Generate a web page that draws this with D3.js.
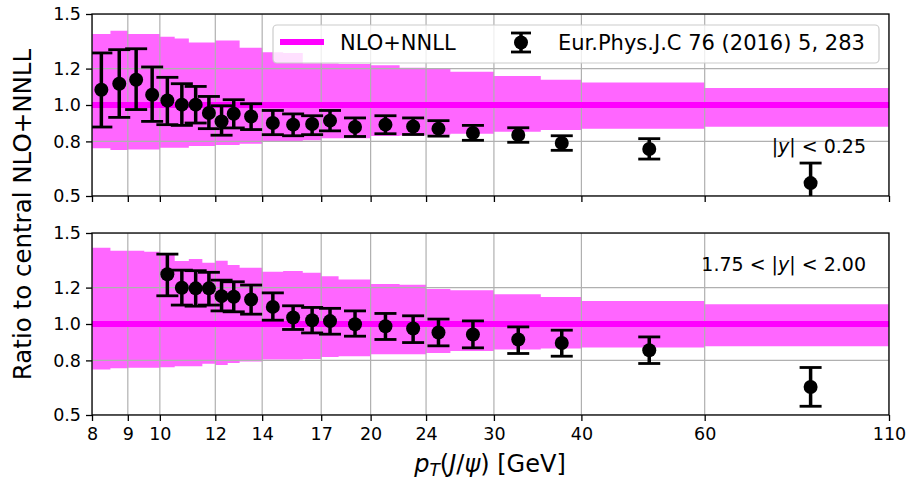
<!DOCTYPE html>
<html lang="en">
<head>
<meta charset="UTF-8">
<title>J/psi ratio to NLO+NNLL</title>
<script src="https://cdn.jsdelivr.net/npm/d3@7"></script>
<style>
  body { margin: 0; background: #fff; }
  text { font-family: "DejaVu Sans", sans-serif; fill: #000; }
</style>
</head>
<body>
<script>
// pT bin edges (GeV), shared by theory band and data
var binEdges = [8, 8.5, 9, 9.5, 10, 10.5, 11, 11.5, 12, 12.5, 13, 14, 15, 16, 17, 18, 20, 22, 24, 26, 30, 35, 40, 60, 110];

// theory band, |y| < 0.25
var bandTopHi = [1.390, 1.408, 1.390, 1.390, 1.375, 1.366, 1.344, 1.344, 1.355, 1.355, 1.315, 1.290,
                 1.286, 1.230, 1.228, 1.225, 1.218, 1.205, 1.200, 1.183, 1.160, 1.139, 1.124, 1.093];
var bandTopLo = [0.762, 0.753, 0.756, 0.756, 0.765, 0.765, 0.775, 0.775, 0.780, 0.780, 0.787, 0.798,
                 0.798, 0.806, 0.817, 0.817, 0.830, 0.832, 0.836, 0.842, 0.853, 0.862, 0.869, 0.881];
// theory band, 1.75 < |y| < 2.00
var bandBotHi = [1.419, 1.403, 1.403, 1.397, 1.390, 1.346, 1.357, 1.337, 1.348, 1.324, 1.309, 1.287,
                 1.291, 1.282, 1.263, 1.245, 1.220, 1.215, 1.192, 1.186, 1.164, 1.149, 1.127, 1.108];
var bandBotLo = [0.750, 0.757, 0.759, 0.759, 0.763, 0.768, 0.768, 0.781, 0.775, 0.786, 0.794, 0.805,
                 0.805, 0.808, 0.818, 0.823, 0.834, 0.834, 0.841, 0.851, 0.860, 0.865, 0.871, 0.878];

// data, |y| < 0.25
var dataTopPt  = [8.25, 8.75, 9.25, 9.75, 10.25, 10.75, 11.25, 11.75, 12.25, 12.75, 13.5, 14.5,
                  15.5, 16.5, 17.5, 19, 21, 23, 25, 28, 32.5, 37.5, 50, 85];
var dataTopVal = [1.084, 1.117, 1.139, 1.056, 1.025, 1.002, 1.002, 0.956, 0.910, 0.952, 0.937, 0.901,
                  0.892, 0.896, 0.914, 0.879, 0.892, 0.882, 0.870, 0.846, 0.835, 0.791, 0.758, 0.571];
var dataTopLo  = [0.879, 0.932, 0.975, 0.910, 0.892, 0.888, 0.901, 0.870, 0.834, 0.874, 0.865, 0.837,
                  0.831, 0.837, 0.858, 0.827, 0.842, 0.838, 0.829, 0.806, 0.795, 0.751, 0.703, 0.460];
var dataTopHi  = [1.286, 1.304, 1.309, 1.209, 1.152, 1.117, 1.102, 1.047, 0.996, 1.029, 1.007, 0.970,
                  0.951, 0.941, 0.970, 0.929, 0.941, 0.929, 0.914, 0.888, 0.875, 0.831, 0.815, 0.681];

// data, 1.75 < |y| < 2.00
var dataBotPt  = [10.25, 10.75, 11.25, 11.75, 12.25, 12.75, 13.5, 14.5, 15.5, 16.5, 17.5, 19,
                  21, 23, 25, 28, 32.5, 37.5, 50, 85];
var dataBotVal = [1.273, 1.199, 1.196, 1.196, 1.153, 1.150, 1.135, 1.094, 1.036, 1.021, 1.016, 0.999,
                  0.988, 0.975, 0.953, 0.942, 0.915, 0.896, 0.856, 0.654];
var dataBotLo  = [1.155, 1.104, 1.098, 1.104, 1.072, 1.067, 1.054, 1.021, 0.970, 0.951, 0.944, 0.933,
                  0.915, 0.898, 0.880, 0.869, 0.838, 0.823, 0.783, 0.548];
var dataBotHi  = [1.384, 1.296, 1.293, 1.284, 1.241, 1.232, 1.214, 1.171, 1.100, 1.091, 1.086, 1.072,
                  1.058, 1.045, 1.027, 1.017, 0.984, 0.966, 0.929, 0.761];

var xTicks = [8, 9, 10, 12, 14, 17, 20, 24, 30, 40, 60, 110];
var yTicks = [0.5, 0.8, 1.0, 1.2, 1.5];

var w = 909, h = 484;
var left = 92, right = 889, panelH = 182;
var panelTops = [14, 233];
var magenta = "#ff00ff", bandColor = "#ff66ff", gridColor = "#b0b0b0";

var svg = d3.select("body").append("svg")
    .attr("width", w).attr("height", h);

var x = d3.scaleLog().domain([8, 110]).range([left, right]);

function drawPanel(idx, hi, lo, pts, vals, los, his, showXLabels) {
    var top = panelTops[idx];
    var y = d3.scaleLinear().domain([0.5, 1.5]).range([top + panelH, top]);
    var g = svg.append("g");

    var clipId = "clip" + idx;
    svg.append("clipPath").attr("id", clipId)
        .append("rect").attr("x", left).attr("y", top)
        .attr("width", right - left).attr("height", panelH);

    var plot = g.append("g").attr("clip-path", "url(#" + clipId + ")");

    // step band
    var steps = binEdges.map(function(e, i) {
        var k = Math.min(i, hi.length - 1);
        return { x: e, lo: lo[k], hi: hi[k] };
    });
    var area = d3.area()
        .curve(d3.curveStepAfter)
        .x(function(d) { return x(d.x); })
        .y0(function(d) { return y(d.lo); })
        .y1(function(d) { return y(d.hi); });
    plot.append("path").datum(steps)
        .attr("d", area).attr("fill", bandColor);

    // grid
    plot.selectAll(".gx").data(xTicks).enter().append("line")
        .attr("x1", function(d) { return x(d); }).attr("x2", function(d) { return x(d); })
        .attr("y1", top).attr("y2", top + panelH)
        .attr("stroke", gridColor).attr("stroke-width", 1.2);
    plot.selectAll(".gy").data(yTicks).enter().append("line")
        .attr("x1", left).attr("x2", right)
        .attr("y1", function(d) { return y(d); }).attr("y2", function(d) { return y(d); })
        .attr("stroke", gridColor).attr("stroke-width", 1.2);

    // central line
    plot.append("line")
        .attr("x1", left).attr("x2", right)
        .attr("y1", y(1)).attr("y2", y(1))
        .attr("stroke", magenta).attr("stroke-width", 6);

    // data with error bars
    var pts2 = pts.map(function(p, i) { return { pt: p, v: vals[i], lo: los[i], hi: his[i] }; });
    var eb = plot.selectAll(".eb").data(pts2).enter().append("g");
    eb.append("line")
        .attr("x1", function(d) { return x(d.pt); }).attr("x2", function(d) { return x(d.pt); })
        .attr("y1", function(d) { return y(d.lo); }).attr("y2", function(d) { return y(d.hi); })
        .attr("stroke", "#000").attr("stroke-width", 3.5);
    ["lo", "hi"].forEach(function(key) {
        eb.append("line")
            .attr("x1", function(d) { return x(d.pt) - 11; }).attr("x2", function(d) { return x(d.pt) + 11; })
            .attr("y1", function(d) { return y(d[key]); }).attr("y2", function(d) { return y(d[key]); })
            .attr("stroke", "#000").attr("stroke-width", 2.8);
    });
    eb.append("circle")
        .attr("cx", function(d) { return x(d.pt); })
        .attr("cy", function(d) { return y(d.v); })
        .attr("r", 7).attr("fill", "#000");

    // axes
    var xAxis = d3.axisBottom(x).tickValues(xTicks).tickSizeOuter(0).tickSize(6).tickPadding(7)
        .tickFormat(showXLabels ? d3.format("d") : "");
    var ax = g.append("g").attr("transform", "translate(0," + (top + panelH) + ")").call(xAxis);
    var yAxis = d3.axisLeft(y).tickValues(yTicks).tickSizeOuter(0).tickSize(6).tickPadding(5)
        .tickFormat(d3.format(".1f"));
    var ay = g.append("g").attr("transform", "translate(" + left + ",0)").call(yAxis);
    [ax, ay].forEach(function(a) {
        a.select(".domain").remove();
        a.selectAll(".tick line").attr("stroke", "#000").attr("stroke-width", 1.3);
        a.selectAll(".tick text").attr("font-size", "17.5px").attr("font-family", "DejaVu Sans");
    });

    g.append("rect").attr("x", left).attr("y", top)
        .attr("width", right - left).attr("height", panelH)
        .attr("fill", "none").attr("stroke", "#000").attr("stroke-width", 1.3);
    return g;
}

drawPanel(0, bandTopHi, bandTopLo, dataTopPt, dataTopVal, dataTopLo, dataTopHi, false);
drawPanel(1, bandBotHi, bandBotLo, dataBotPt, dataBotVal, dataBotLo, dataBotHi, true);

// rapidity annotations
var t1 = svg.append("text").attr("x", 866).attr("y", 153).attr("text-anchor", "end").attr("font-size", "19px");
t1.append("tspan").text("|");
t1.append("tspan").attr("font-style", "italic").text("y");
t1.append("tspan").text("| < 0.25");
var t2 = svg.append("text").attr("x", 866).attr("y", 271).attr("text-anchor", "end").attr("font-size", "19px");
t2.append("tspan").text("1.75 < |");
t2.append("tspan").attr("font-style", "italic").text("y");
t2.append("tspan").text("| < 2.00");

// legend
var lg = svg.append("g");
lg.append("rect").attr("x", 273).attr("y", 25).attr("width", 606).attr("height", 38)
    .attr("rx", 4).attr("fill", "#fff").attr("fill-opacity", 0.8)
    .attr("stroke", "#cccccc").attr("stroke-width", 1.2);
lg.append("line").attr("x1", 280).attr("x2", 324).attr("y1", 42).attr("y2", 42)
    .attr("stroke", magenta).attr("stroke-width", 6);
lg.append("text").attr("x", 340).attr("y", 50).attr("font-size", "21px").text("NLO+NNLL");
lg.append("line").attr("x1", 521).attr("x2", 521).attr("y1", 33).attr("y2", 52)
    .attr("stroke", "#000").attr("stroke-width", 3.5);
lg.append("line").attr("x1", 511).attr("x2", 531).attr("y1", 33).attr("y2", 33)
    .attr("stroke", "#000").attr("stroke-width", 2.8);
lg.append("line").attr("x1", 511).attr("x2", 531).attr("y1", 52).attr("y2", 52)
    .attr("stroke", "#000").attr("stroke-width", 2.8);
lg.append("circle").attr("cx", 521).attr("cy", 42.5).attr("r", 7).attr("fill", "#000");
lg.append("text").attr("x", 558).attr("y", 50).attr("font-size", "21px").text("Eur.Phys.J.C 76 (2016) 5, 283");

// axis labels
svg.append("text")
    .attr("transform", "translate(31," + (14 + 233 + panelH) / 2 + ") rotate(-90)")
    .attr("text-anchor", "middle").attr("font-size", "24.5px")
    .text("Ratio to central NLO+NNLL");

var xl = svg.append("text").attr("x", 490).attr("y", 472).attr("text-anchor", "middle").attr("font-size", "24px");
xl.append("tspan").attr("font-style", "italic").text("p");
xl.append("tspan").attr("font-style", "italic").attr("font-size", "17px").attr("dy", 4).text("T");
xl.append("tspan").attr("dy", -4).text("(");
xl.append("tspan").attr("font-style", "italic").text("J");
xl.append("tspan").text("/");
xl.append("tspan").attr("font-style", "italic").text("ψ");
xl.append("tspan").text(") [GeV]");
</script>
</body>
</html>
